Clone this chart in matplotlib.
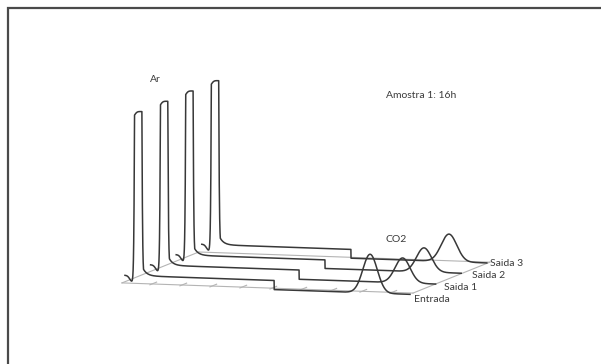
import numpy as np
import matplotlib
matplotlib.use('Agg')
import matplotlib.pyplot as plt
from matplotlib.transforms import Affine2D

# chromatograms, front (Entrada) to back (Saida 3)
trace_names = ['Entrada', 'Saida 1', 'Saida 2', 'Saida 3']
ar_time = [0.54, 0.55, 0.54, 0.54]        # min
ar_height = [100, 100, 100, 100]           # saturated top
step_time = [5.07, 5.05, 5.06, 5.07]
base_before = [4.5, 4.6, 4.5, 4.6]
base_after = [-0.8, -0.8, -0.5, -0.5]
co2_time = [8.27, 8.50, 8.36, 8.34]
co2_height = [22.5, 14.5, 14.0, 16.0]
co2_sigma = [0.24, 0.25, 0.25, 0.26]
t_start, t_end = 0.1, 9.6
floor_end = 9.7
floor_ticks = [1, 2, 3, 4, 5, 6, 7, 8, 9]

W, H = 601, 364
fig = plt.figure(figsize=(W / 100, H / 100), dpi=100)
ax = fig.add_axes([0, 0, 1, 1])
ax.set_xlim(0, W)
ax.set_ylim(H, 0)
ax.axis('off')

line_col = '#383838'
floor_col = '#b4b4b4'
txt_col = '#3a3a3a'
font = 'Lato'
fs = 7.5


def depth_tr(k):
    # oblique projection: (time, signal) of trace k -> picture coords
    m = np.array([[30.0, 0.0, 122 + 25.6 * k],
                  [1.05, -1.72, 282.9 - 10.3 * k],
                  [0, 0, 1]])
    return Affine2D(m) + ax.transData


def depth_line(tt, k0, k1):
    # segment along the depth direction at time tt
    p0 = depth_tr(k0).transform((tt, 0))
    p1 = depth_tr(k1).transform((tt, 0))
    xy = ax.transData.inverted().transform([p0, p1])
    ax.plot(xy[:, 0], xy[:, 1], color=floor_col, lw=0.8)


# floor of the 3d box
back = len(trace_names) - 1
for kk in (0, back):
    ax.plot([0, floor_end], [0, 0], color=floor_col, lw=0.8, transform=depth_tr(kk))
for tt in (0, floor_end):
    depth_line(tt, 0, back)
for tt in floor_ticks:
    depth_line(tt, -0.08, 0.18)

t = np.linspace(t_start, t_end, 4000)
for k in range(len(trace_names)):
    base = np.where(t < step_time[k], base_before[k], base_after[k])
    gauss = 20 * ar_height[k] * np.exp(-(t - ar_time[k]) ** 2 / (2 * 0.05 ** 2))
    tail = np.where(t > ar_time[k], 15 * np.exp(-(t - ar_time[k]) / 0.13), 0)
    peak = np.minimum(ar_height[k] - base_before[k], np.maximum(gauss, tail))
    dip = -3.5 * np.exp(-(t - (ar_time[k] - 0.2)) ** 2 / (2 * 0.08 ** 2))
    co2 = co2_height[k] * np.exp(-(t - co2_time[k]) ** 2 / (2 * co2_sigma[k] ** 2))
    sig = base + peak + dip + co2
    ax.plot(t, sig, color=line_col, lw=1.1, transform=depth_tr(k), solid_joinstyle='round')

# trace labels
label_pos = [(414, 299), (444, 288), (472, 275), (490, 263)]
for name, (x, y) in zip(trace_names, label_pos):
    ax.text(x, y, name, fontsize=fs, family=font, color=txt_col, ha='left', va='center')

ax.text(155, 80, 'Ar', fontsize=fs, family=font, color=txt_col, ha='center', va='center')
ax.text(396, 240, 'CO2', fontsize=fs, family=font, color=txt_col, ha='center', va='center')
ax.text(386, 95, 'Amostra 1: 16h', fontsize=fs, family=font, color=txt_col, ha='left', va='center')

# page frame (left and top edges only)
ax.plot([8, 8, W], [H, 8, 8], color='#4a4a4a', lw=1.6, solid_joinstyle='miter')

fig.savefig('out.png', dpi=100)
